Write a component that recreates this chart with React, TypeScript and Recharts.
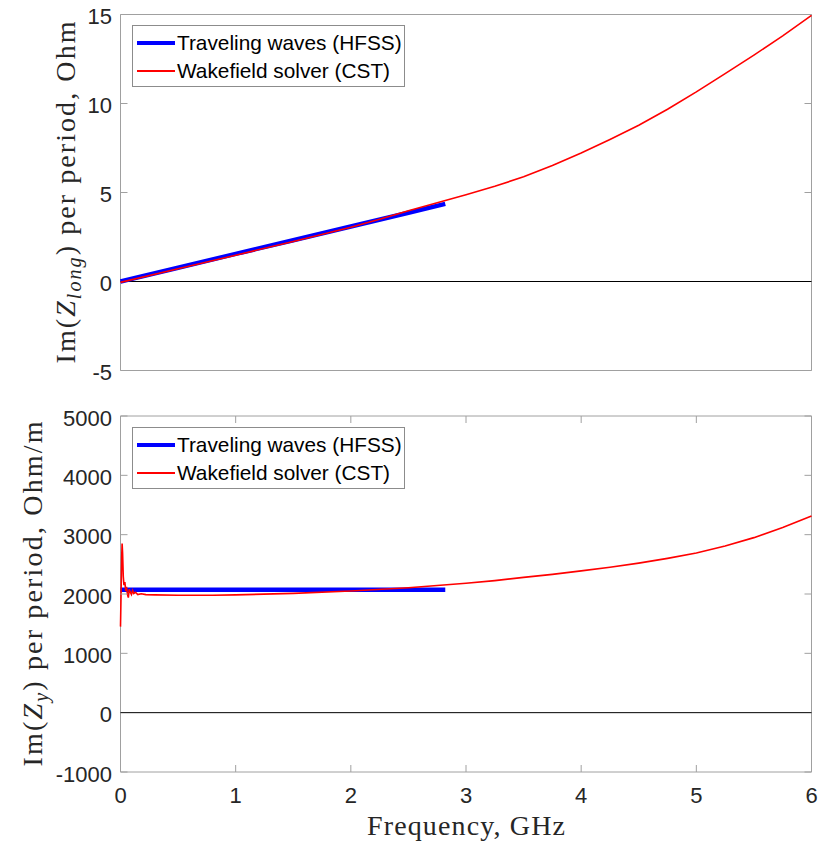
import React from 'react';
import { LineChart, Line, XAxis, YAxis, ReferenceLine, ReferenceArea, Legend } from 'recharts';

// ---------- data ----------
const freqTopHfss = [0, 0.5, 1, 1.5, 2, 2.5, 2.82];
const zlongHfss = [0, 0.77, 1.55, 2.32, 3.09, 3.86, 4.36];
const freqTopCst = [0, 0.5, 1, 1.5, 2, 2.25, 2.5, 2.75, 3, 3.25, 3.5, 3.75, 4, 4.25, 4.5, 4.75, 5, 5.25, 5.5, 5.75, 6];
const zlongCst = [-0.05, 0.72, 1.48, 2.25, 3.05, 3.5, 3.98, 4.42, 4.87, 5.35, 5.88, 6.52, 7.22, 7.98, 8.78, 9.68, 10.65, 11.68, 12.72, 13.8, 14.95];

const freqBotHfss = [0, 1, 2, 2.82];
const zyHfss = [2070, 2070, 2070, 2070];
const freqBotCst = [
  0, 0.004, 0.01, 0.014, 0.018, 0.024, 0.03, 0.038, 0.045, 0.052, 0.06, 0.068, 0.076, 0.085, 0.095,
  0.105, 0.115, 0.13, 0.15, 0.18, 0.22, 0.3, 0.5, 0.8, 1.0, 1.5, 2.0, 2.5, 3, 3.25, 3.5, 3.75, 4, 4.25, 4.5, 4.75, 5, 5.25, 5.5, 5.75, 6,
];
const zyCst = [
  1450, 1900, 2600, 2850, 2700, 2300, 2150, 2200, 2050, 2120, 2000, 1940, 2080, 2030, 1990,
  2060, 2010, 2030, 1990, 2005, 1990, 1985, 1980, 1980, 1985, 2010, 2050, 2105, 2180, 2225, 2280, 2330, 2390, 2450, 2520, 2600, 2690, 2810, 2950, 3120, 3315,
];

const xTicks = [0, 1, 2, 3, 4, 5, 6];
const yTicksTop = [-5, 0, 5, 10, 15];
const yTicksBot = [-1000, 0, 1000, 2000, 3000, 4000, 5000];
const seriesNames = ['Traveling waves (HFSS)', 'Wakefield solver (CST)'];

const zip = (xs: number[], ys: number[]) => xs.map((f, i) => ({ f, v: ys[i] }));
const topHfss = zip(freqTopHfss, zlongHfss);
const topCst = zip(freqTopCst, zlongCst);
const botHfss = zip(freqBotHfss, zyHfss);
const botCst = zip(freqBotCst, zyCst);

// ---------- layout ----------
const W = 825;
const PLOT_LEFT = 120.5;
const PLOT_RIGHT = 811.5;
const TOP_Y0 = 14.5;
const TOP_Y1 = 370.5;
const BOT_CHART_TOP = 400;
const BOT_Y0 = 416 - BOT_CHART_TOP;
const BOT_Y1 = 772 - BOT_CHART_TOP;
const TICK_LEN = 7;
const FRAME = '#a0a0a0';
const TEXT = '#262626';
const SANS = '"Liberation Sans", Arial, Helvetica, sans-serif';
const SERIF = '"Liberation Serif", "Times New Roman", serif';
const FS = 22;
const LFS = 20.8;

const lineStyle: Record<string, { color: string; width: number }> = {
  [seriesNames[0]]: { color: '#0000ff', width: 4.5 },
  [seriesNames[1]]: { color: '#ff0000', width: 1.6 },
};

const makeYTick = () => (props: any) => {
  const { y, payload } = props;
  const showLines = payload.value !== 0;
  return (
    <g>
      {showLines && <line x1={PLOT_LEFT} x2={PLOT_LEFT + TICK_LEN} y1={y} y2={y} stroke={FRAME} />}
      {showLines && <line x1={PLOT_RIGHT - TICK_LEN} x2={PLOT_RIGHT} y1={y} y2={y} stroke={FRAME} />}
      <text x={112} y={y + 9.5} textAnchor="end" fontFamily={SANS} fontSize={FS} fill={TEXT}>
        {payload.value}
      </text>
    </g>
  );
};

const XTickBottom = (props: any) => {
  const { x, payload } = props;
  return (
    <g>
      <line x1={x} x2={x} y1={BOT_Y1} y2={BOT_Y1 - TICK_LEN} stroke={FRAME} />
      <line x1={x} x2={x} y1={BOT_Y0} y2={BOT_Y0 + TICK_LEN} stroke={FRAME} />
      <text x={x} y={BOT_Y1 + 31} textAnchor="middle" fontFamily={SANS} fontSize={FS} fill={TEXT}>
        {payload.value}
      </text>
    </g>
  );
};

const LegendBox = (props: any) => {
  const { payload } = props;
  return (
    <div
      style={{
        width: 273,
        height: 62,
        boxSizing: 'border-box',
        border: '1px solid #8c8c8c',
        background: '#fff',
        fontFamily: SANS,
        fontSize: LFS,
        color: '#000',
        paddingTop: 3,
      }}
    >
      {(payload || []).map((e: any) => {
        const st = lineStyle[e.value] || { color: e.color, width: 2 };
        return (
          <div key={e.value} style={{ display: 'flex', alignItems: 'center', height: 28, whiteSpace: 'nowrap' }}>
            <div style={{ marginLeft: 4, width: 38, height: st.width, background: st.color }} />
            <span style={{ marginLeft: 2 }}>{e.value}</span>
          </div>
        );
      })}
    </div>
  );
};

const TopYLabel = () => (
  <text
    transform={`translate(75, ${(TOP_Y0 + TOP_Y1) / 2}) rotate(-90)`}
    textAnchor="middle"
    fontFamily={SERIF}
    fontSize={28}
    fill={TEXT}
    textLength={342}
    lengthAdjust="spacing"
  >
    <tspan>Im(</tspan>
    <tspan fontStyle="italic">Z</tspan>
    <tspan fontStyle="italic" fontSize={20} dy={6}>long</tspan>
    <tspan dy={-6}>) per period, Ohm</tspan>
  </text>
);

const BotYLabel = () => (
  <text
    transform={`translate(42, ${(BOT_Y0 + BOT_Y1) / 2}) rotate(-90)`}
    textAnchor="middle"
    fontFamily={SERIF}
    fontSize={28}
    fill={TEXT}
    textLength={345}
    lengthAdjust="spacing"
  >
    <tspan>Im(</tspan>
    <tspan fontStyle="italic">Z</tspan>
    <tspan fontStyle="italic" fontSize={20} dy={6}>y</tspan>
    <tspan dy={-6}>) per period, Ohm/m</tspan>
  </text>
);

const XLabel = () => (
  <text
    x={(PLOT_LEFT + PLOT_RIGHT) / 2}
    y={835 - BOT_CHART_TOP}
    textAnchor="middle"
    fontFamily={SERIF}
    fontSize={28}
    fill={TEXT}
    textLength={198}
    lengthAdjust="spacing"
  >
    Frequency, GHz
  </text>
);

export default function App() {
  return (
    <div style={{ position: 'absolute', left: 0, top: 0, width: W, height: 841, background: '#fff' }}>
      <div style={{ position: 'absolute', left: 0, top: 0 }}>
        <LineChart
          width={W}
          height={400}
          margin={{ top: TOP_Y0, right: W - PLOT_RIGHT, bottom: 400 - TOP_Y1, left: PLOT_LEFT - 60 }}
        >
          <XAxis dataKey="f" type="number" domain={[0, 6]} ticks={xTicks} hide allowDuplicatedCategory={false} />
          <YAxis
            type="number"
            domain={[-5, 15]}
            ticks={yTicksTop}
            width={60}
            axisLine={false}
            tickLine={false}
            tick={makeYTick()}
            interval={0}
            label={{ content: () => <TopYLabel /> }}
          />
          <ReferenceArea x1={0} x2={6} y1={-5} y2={15} fill="none" stroke={FRAME} strokeWidth={1} />
          <ReferenceLine segment={[{ x: 0, y: 0 }, { x: 6, y: 0 }]} stroke="#000" strokeWidth={1} />
          <Line data={topHfss} dataKey="v" name={seriesNames[0]} stroke={lineStyle[seriesNames[0]].color} strokeWidth={lineStyle[seriesNames[0]].width} dot={false} isAnimationActive={false} />
          <Line data={topCst} dataKey="v" name={seriesNames[1]} stroke={lineStyle[seriesNames[1]].color} strokeWidth={lineStyle[seriesNames[1]].width} dot={false} isAnimationActive={false} />
          <Legend
            content={<LegendBox />}
            layout="vertical"
            align="center"
            verticalAlign="middle"
            wrapperStyle={{ left: 132, top: 25, width: 273 }}
          />
        </LineChart>
      </div>
      <div style={{ position: 'absolute', left: 0, top: BOT_CHART_TOP }}>
        <LineChart
          width={W}
          height={441}
          margin={{ top: BOT_Y0, right: W - PLOT_RIGHT, bottom: 0, left: PLOT_LEFT - 60 }}
        >
          <XAxis
            dataKey="f"
            type="number"
            domain={[0, 6]}
            ticks={xTicks}
            height={441 - BOT_Y1}
            axisLine={false}
            tickLine={false}
            tick={<XTickBottom />}
            interval={0}
            allowDuplicatedCategory={false}
            label={{ content: () => <XLabel /> }}
          />
          <YAxis
            type="number"
            domain={[-1000, 5000]}
            ticks={yTicksBot}
            width={60}
            axisLine={false}
            tickLine={false}
            tick={makeYTick()}
            interval={0}
            label={{ content: () => <BotYLabel /> }}
          />
          <ReferenceArea x1={0} x2={6} y1={-1000} y2={5000} fill="none" stroke={FRAME} strokeWidth={1} />
          <ReferenceLine segment={[{ x: 0, y: 0 }, { x: 6, y: 0 }]} stroke="#000" strokeWidth={1} />
          <Line data={botHfss} dataKey="v" name={seriesNames[0]} stroke={lineStyle[seriesNames[0]].color} strokeWidth={lineStyle[seriesNames[0]].width} dot={false} isAnimationActive={false} />
          <Line data={botCst} dataKey="v" name={seriesNames[1]} stroke={lineStyle[seriesNames[1]].color} strokeWidth={lineStyle[seriesNames[1]].width} dot={false} isAnimationActive={false} />
          <Legend
            content={<LegendBox />}
            layout="vertical"
            align="center"
            verticalAlign="middle"
            wrapperStyle={{ left: 132, top: 27, width: 273 }}
          />
        </LineChart>
      </div>
    </div>
  );
}
